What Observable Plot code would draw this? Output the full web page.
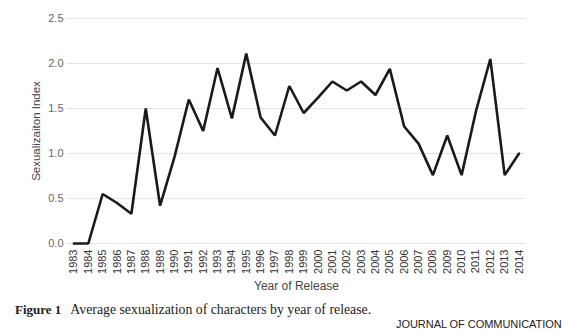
<!DOCTYPE html>
<html>
<head>
<meta charset="utf-8">
<script src="https://cdn.jsdelivr.net/npm/d3@7"></script>
<script src="https://cdn.jsdelivr.net/npm/@observablehq/plot@0.6"></script>
<style>
  html, body { margin: 0; padding: 0; background: #fff; }
  body { width: 570px; height: 332px; position: relative; overflow: hidden; }
  #chart { position: absolute; left: 0; top: 0; }
  .caption { position: absolute; left: 15px; top: 302px; font-family: "Liberation Serif", "Times New Roman", serif; font-size: 13.8px; color: #222; white-space: nowrap; }
  .caption b { font-size: 13px; margin-right: 9px; }
  .source { position: absolute; left: 396px; top: 318px; font-family: "Liberation Sans", Arial, sans-serif; font-size: 11px; letter-spacing: -0.05px; color: #222; white-space: nowrap; }
</style>
</head>
<body>
<div id="chart"></div>
<div class="caption"><b>Figure 1</b>Average sexualization of characters by year of release.</div>
<div class="source">JOURNAL OF COMMUNICATION</div>
<script>
const years = [1983,1984,1985,1986,1987,1988,1989,1990,1991,1992,1993,1994,1995,1996,1997,1998,1999,2000,2001,2002,2003,2004,2005,2006,2007,2008,2009,2010,2011,2012,2013,2014];
const index = [0,0,0.55,0.45,0.33,1.5,0.42,0.96,1.6,1.25,1.95,1.39,2.11,1.4,1.2,1.75,1.45,1.62,1.8,1.7,1.8,1.65,1.94,1.3,1.11,0.76,1.2,0.76,1.47,2.05,0.76,1.0];
const yTicks = [0, 0.5, 1.0, 1.5, 2.0, 2.5];
const xTitle = "Year of Release";
const yTitle = "Sexualizaiton Index";

const data = years.map((y, i) => ({year: y, value: index[i]}));

const chart = Plot.plot({
  width: 570,
  height: 300,
  marginLeft: 67,
  marginRight: 45,
  marginTop: 18,
  marginBottom: 57,
  style: {fontFamily: "'Liberation Sans', Arial, sans-serif", background: "#fff"},
  x: {type: "point", domain: years, padding: 0.45, round: false},
  y: {domain: [0, 2.5]},
  marks: [
    Plot.gridY(yTicks, {stroke: "#e3e3e3", strokeOpacity: 1, strokeWidth: 1}),
    Plot.axisY(yTicks, {tickSize: 0, tickPadding: 4, tickFormat: d3.format(".1f"), fontSize: 11, fill: "#666", label: null}),
    Plot.axisY({tickSize: 0, ticks: [], label: yTitle, labelAnchor: "center", labelArrow: "none", labelOffset: 36, fontSize: 11.5, color: "#444"}),
    Plot.axisX(years, {tickSize: 0, tickPadding: 6, tickRotate: -90, tickFormat: d => String(d), fontSize: 11, fill: "#333", label: null}),
    Plot.text([xTitle], {frameAnchor: "bottom", dy: 46, fontSize: 12, fill: "#444"}),
    Plot.line(data, {x: "year", y: "value", stroke: "#1a1a1a", strokeWidth: 2.6, strokeLinejoin: "miter"})
  ]
});
document.getElementById("chart").appendChild(chart);
</script>
</body>
</html>
